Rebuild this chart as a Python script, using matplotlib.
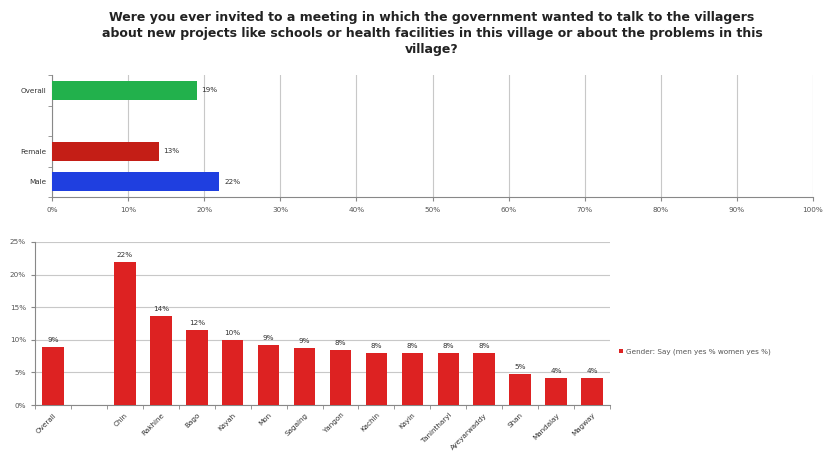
import matplotlib
matplotlib.use("Agg")
import matplotlib.pyplot as plt
import numpy as np

title = ("Were you ever invited to a meeting in which the government wanted to talk to the villagers\n"
         "about new projects like schools or health facilities in this village or about the problems in this\n"
         "village?")

# Top chart (horizontal bars), bottom to top
top_cats = ["Male", "Female", "", "Overall"]
top_vals = [22, 14, None, 19]
top_labels = ["22%", "13%", "", "19%"]
top_colors = ["#1f3fe0", "#c41e16", "#ffffff", "#22b14c"]
top_xticks = [0, 10, 20, 30, 40, 50, 60, 70, 80, 90, 100]

# Bottom chart (vertical bars)
bot_cats = ["Overall", "", "Chin", "Rakhine", "Bago", "Kayah", "Mon", "Sagaing", "Yangon",
            "Kachin", "Kayin", "Tanintharyi", "Ayeyarwaddy", "Shan", "Mandalay", "Magway"]
bot_vals = [8.9, None, 21.9, 13.6, 11.5, 10.0, 9.2, 8.8, 8.4, 8.0, 8.0, 8.0, 8.0, 4.8, 4.2, 4.1]
bot_labels = ["9%", "", "22%", "14%", "12%", "10%", "9%", "9%", "8%", "8%", "8%", "8%", "8%",
              "5%", "4%", "4%"]
bot_yticks = [0, 5, 10, 15, 20, 25]
legend_label = "Gender: Say (men yes % women yes %)"

W, H = 831, 466
fig = plt.figure(figsize=(W / 100, H / 100), dpi=100)
fig.patch.set_facecolor("white")

fig.text(432 / W, 1 - 34 / H, title, ha="center", va="center", fontsize=9.0,
         fontweight="bold", color="#222222", linespacing=1.3)

grid_c = "#c8c8c8"
txt_c = "#555555"

# --- top axes ---
ax1 = fig.add_axes([52 / W, 1 - 197 / H, (813 - 52) / W, (197 - 75) / H])
y = np.arange(len(top_cats))
for i, (v, c) in enumerate(zip(top_vals, top_colors)):
    if v is None:
        continue
    ax1.barh(y[i], v, height=0.62, color=c, zorder=3)
    ax1.text(v + 0.6, y[i], top_labels[i], va="center", ha="left", fontsize=5.2, color="#333333")
ax1.set_xlim(0, 100)
ax1.set_ylim(-0.5, len(top_cats) - 0.5)
ax1.set_xticks(top_xticks)
ax1.set_xticklabels([f"{t}%" for t in top_xticks], fontsize=5.2, color=txt_c)
ax1.set_yticks(y)
ax1.set_yticklabels(top_cats, fontsize=5.2, color="#333333")
ax1.set_yticks(np.arange(len(top_cats) + 1) - 0.5, minor=True)
ax1.tick_params(axis="y", which="major", length=0, pad=4)
ax1.tick_params(axis="y", which="minor", length=3, color="#888888")
ax1.tick_params(axis="x", length=3, color="#888888", pad=4)
ax1.grid(axis="x", color=grid_c, linewidth=0.8, zorder=0)
for s in ["top", "right"]:
    ax1.spines[s].set_visible(False)
ax1.spines["left"].set_color("#888888")
ax1.spines["bottom"].set_color("#888888")

# --- bottom axes ---
ax2 = fig.add_axes([35 / W, 1 - 405 / H, (610 - 35) / W, (405 - 242) / H])
x = np.arange(len(bot_cats))
bars = None
for i, v in enumerate(bot_vals):
    if v is None:
        continue
    b = ax2.bar(x[i], v, width=0.6, color="#dd2222", zorder=3,
                label=legend_label if bars is None else None)
    bars = b
    ax2.text(x[i], v + 0.6, bot_labels[i], ha="center", va="bottom", fontsize=5.2, color="#333333")
ax2.set_xlim(-0.5, len(bot_cats) - 0.5)
ax2.set_ylim(0, 25)
ax2.set_yticks(bot_yticks)
ax2.set_yticklabels([f"{t}%" for t in bot_yticks], fontsize=5.2, color=txt_c)
ax2.set_xticks(x)
ax2.set_xticklabels(bot_cats, rotation=45, ha="right", rotation_mode="anchor",
                    fontsize=5.2, color="#333333")
ax2.set_xticks(np.arange(len(bot_cats) + 1) - 0.5, minor=True)
ax2.tick_params(axis="x", which="major", length=0, pad=5)
ax2.tick_params(axis="x", which="minor", length=3, color="#888888")
ax2.tick_params(axis="y", length=3, color="#888888")
ax2.grid(axis="y", color=grid_c, linewidth=0.8, zorder=0)
for s in ["top", "right"]:
    ax2.spines[s].set_visible(False)
ax2.spines["left"].set_color("#888888")
ax2.spines["bottom"].set_color("#888888")

fig.legend(handles=[bars], labels=[legend_label], loc="center left",
           bbox_to_anchor=(612 / W, 1 - 352 / H), frameon=False, fontsize=5.2,
           handlelength=0.6, handleheight=0.6, handletextpad=0.4, labelcolor="#555555")

fig.savefig("out.png", dpi=100, facecolor="white")
